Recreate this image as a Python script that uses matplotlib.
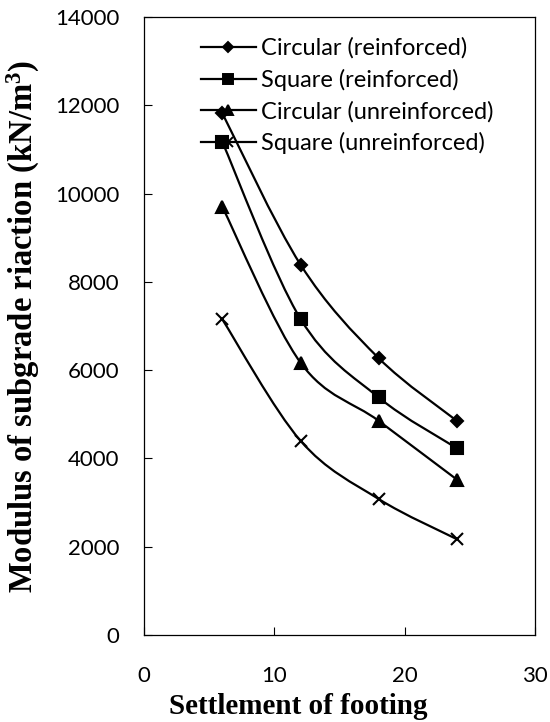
import matplotlib
matplotlib.use("Agg")
import matplotlib.pyplot as plt
from matplotlib.path import Path
from matplotlib.patches import PathPatch
from matplotlib.lines import Line2D

settlement = [6, 12, 18, 24]
circular_reinforced = [11820, 8390, 6270, 4850]
square_reinforced = [11170, 7160, 5380, 4230]
circular_unreinforced = [9700, 6170, 4850, 3520]
square_unreinforced = [7150, 4400, 3080, 2170]

series = [
    ("Circular (reinforced)", circular_reinforced, "D", 6.5),
    ("Square (reinforced)", square_reinforced, "s", 9),
    ("Circular (unreinforced)", circular_unreinforced, "^", 9),
    ("Square (unreinforced)", square_unreinforced, "x", 8.5),
]

plt.rcParams["mathtext.fontset"] = "custom"
plt.rcParams["mathtext.bf"] = "Liberation Serif:bold"
plt.rcParams["mathtext.rm"] = "Liberation Serif:bold"
plt.rcParams["mathtext.default"] = "bf"


def smooth_path(xs, ys):
    # Excel-style smoothed line: cubic Bezier segments with Catmull-Rom tangents
    pts = list(zip(xs, ys))
    verts = [pts[0]]
    codes = [Path.MOVETO]
    n = len(pts)
    for i in range(n - 1):
        p0 = pts[i - 1] if i > 0 else pts[i]
        p1 = pts[i]
        p2 = pts[i + 1]
        p3 = pts[i + 2] if i + 2 < n else pts[i + 1]
        c1 = (p1[0] + (p2[0] - p0[0]) / 6, p1[1] + (p2[1] - p0[1]) / 6)
        c2 = (p2[0] - (p3[0] - p1[0]) / 6, p2[1] - (p3[1] - p1[1]) / 6)
        verts += [c1, c2, p2]
        codes += [Path.CURVE4] * 3
    return Path(verts, codes)


fig = plt.figure(figsize=(5.5, 7.22), dpi=100)
ax = fig.add_axes([0.262, 0.1205, 0.711, 0.856])

handles = []
for label, vals, marker, ms in series:
    ax.add_patch(PathPatch(smooth_path(settlement, vals), facecolor="none",
                           edgecolor="black", lw=1.6, zorder=2))
    ax.plot(settlement, vals, linestyle="none", marker=marker, ms=ms,
            color="black", mew=1.5, zorder=3)
    handles.append(Line2D([], [], color="black", lw=1.6, marker=marker,
                          ms=ms * 0.85, mew=1.4, label=label))

ax.set_xlim(0, 30)
ax.set_ylim(0, 14000)
ax.set_xticks([0, 10, 20, 30])
ax.set_yticks(range(0, 14001, 2000))
ax.tick_params(direction="in", length=6, width=0.8, labelsize=16)
ax.tick_params(axis="y", pad=18)
ax.tick_params(axis="x", pad=22)
for lab in ax.get_xticklabels() + ax.get_yticklabels():
    lab.set_family("Lato")
for sp in ax.spines.values():
    sp.set_linewidth(0.9)

ax.set_xlabel("Settlement of footing", family="Liberation Serif",
              fontweight="bold", fontsize=21)
ax.set_ylabel("Modulus of subgrade riaction (kN/m$^{3}$)", family="Liberation Serif",
              fontweight="bold", fontsize=23.5)
ax.xaxis.set_label_coords(0.394, -0.094)
ax.yaxis.set_label_coords(-0.262, 0.5)

ax.legend(handles=handles, loc="upper left", bbox_to_anchor=(0.11, 0.99),
          frameon=False, prop={"family": "Lato", "size": 17},
          handlelength=2.3, handletextpad=0.25, labelspacing=0.42,
          borderaxespad=0.2)

fig.savefig("out.png", dpi=100)
